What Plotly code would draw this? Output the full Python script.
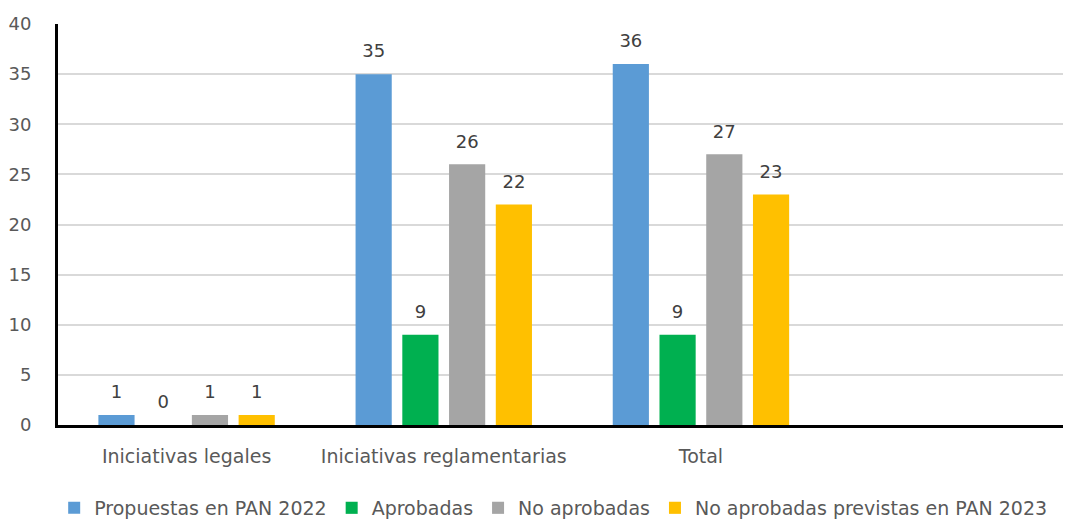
import plotly.graph_objects as go

categorias = ["Iniciativas legales", "Iniciativas reglamentarias", "Total", " "]
propuestas_2022 = [1, 35, 36, None]
aprobadas = [0, 9, 9, None]
no_aprobadas = [1, 26, 27, None]
previstas_2023 = [1, 22, 23, None]

series = [
    ("Propuestas en PAN 2022", propuestas_2022, "#5b9bd5"),
    ("Aprobadas", aprobadas, "#00b050"),
    ("No aprobadas", no_aprobadas, "#a5a5a5"),
    ("No aprobadas previstas en PAN 2023", previstas_2023, "#ffc000"),
]

FONT = "DejaVu Sans"
GRIS = "#595959"

fig = go.Figure()
for nombre, valores, color in series:
    fig.add_trace(
        go.Bar(
            x=categorias,
            y=valores,
            name=nombre,
            marker=dict(color=color, line=dict(width=0)),
            # small blank second line lifts the label like Excel does
            texttemplate="<span style='font-size:18px'>%{y}</span><br> ",
            textposition="outside",
            cliponaxis=False,
            textfont=dict(family=FONT, size=9, color="#404040"),
        )
    )

fig.update_layout(
    width=1071,
    height=519,
    barmode="group",
    bargap=0.273,
    bargroupgap=0.226,
    plot_bgcolor="white",
    paper_bgcolor="white",
    margin=dict(l=50, r=0, t=16, b=94),
    font=dict(family=FONT, size=18, color=GRIS),
    showlegend=True,
    legend=dict(
        orientation="h",
        x=0.485,
        xanchor="center",
        y=-0.16,
        yanchor="top",
        font=dict(family=FONT, size=19, color=GRIS),
        itemwidth=30,
        traceorder="normal",
    ),
)

fig.update_xaxes(
    type="category",
    range=[-0.5, 3.47],
    automargin=False,
    showline=True,
    linecolor="black",
    linewidth=3,
    ticks="",
    ticklabelstandoff=12,
    tickfont=dict(family=FONT, size=19, color=GRIS),
    showgrid=False,
)
fig.update_yaxes(
    range=[0, 40],
    dtick=5,
    automargin=False,
    showline=True,
    linecolor="black",
    linewidth=3,
    showgrid=True,
    gridcolor="#d9d9d9",
    gridwidth=2,
    zeroline=False,
    ticks="",
    ticklabelstandoff=20,
    tickfont=dict(family=FONT, size=18, color=GRIS),
)

fig.write_html("out.html")
